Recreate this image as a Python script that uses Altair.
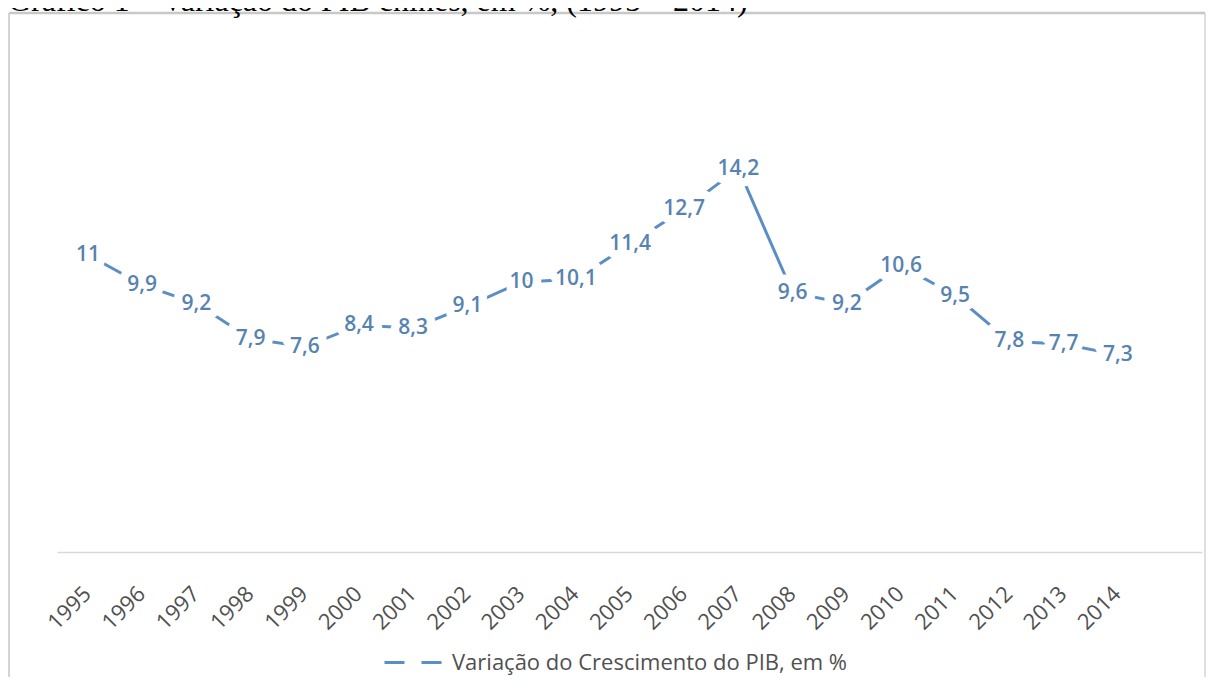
import altair as alt
import pandas as pd

# ---- data ----
anos = [1995, 1996, 1997, 1998, 1999, 2000, 2001, 2002, 2003, 2004,
        2005, 2006, 2007, 2008, 2009, 2010, 2011, 2012, 2013, 2014]
valores = [11, 9.9, 9.2, 7.9, 7.6, 8.4, 8.3, 9.1, 10, 10.1,
           11.4, 12.7, 14.2, 9.6, 9.2, 10.6, 9.5, 7.8, 7.7, 7.3]
serie_nome = "Variação do Crescimento do PIB, em %"
titulo = "Gráfico 1 – Variação do PIB chinês, em %, (1995 – 2014)"

df = pd.DataFrame({
    "ano": anos,
    "valor": valores,
    "rotulo": [f"{v:g}".replace(".", ",") for v in valores],
    "serie": [serie_nome] * len(anos),
})

AZUL_LINHA = "#5b8ec4"
AZUL_TEXTO = "#5783b0"
CINZA = "#505050"
BORDA = "#d4d4d4"

W, H = 1145, 432
xscale = alt.Scale(domain=[1994.428, 2015.553], nice=False, zero=False)
yscale = alt.Scale(domain=[0, 16], nice=False, zero=True)

base = alt.Chart(df)

linha = base.mark_line(strokeWidth=3).encode(
    x=alt.X("ano:Q", scale=xscale,
            axis=alt.Axis(values=anos, format="d", title=None, grid=False,
                          ticks=False, tickSize=0, labelAngle=-45,
                          labelAlign="right", labelBaseline="middle",
                          labelPadding=38, labelOffset=-1,
                          labelFontSize=22, labelFont="Open Sans",
                          labelColor=CINZA, labelFlush=False,
                          labelOverlap=False, domainColor="#d9d9d9",
                          domainWidth=1.5)),
    y=alt.Y("valor:Q", scale=yscale, axis=None),
    color=alt.Color("serie:N", scale=alt.Scale(range=[AZUL_LINHA]),
                    legend=alt.Legend(title=None, orient="none",
                                      legendX=326, legendY=509,
                                      symbolType="stroke", symbolSize=4096,
                                      symbolStrokeWidth=3,
                                      symbolDash=[20, 17],
                                      labelFontSize=22, labelFont="Open Sans",
                                      labelColor=CINZA, labelOffset=2,
                                      padding=0, labelLimit=0)),
)

halo = base.mark_text(fontSize=21, font="Open Sans", fontWeight=600,
                      baseline="middle", align="center", fill="white",
                      stroke="white", strokeWidth=17,
                      strokeJoin="round").encode(
    x=alt.X("ano:Q", scale=xscale),
    y=alt.Y("valor:Q", scale=yscale),
    text="rotulo:N",
)

rotulos = base.mark_text(fontSize=21, font="Open Sans", fontWeight=600,
                         baseline="middle", align="center",
                         color=AZUL_TEXTO).encode(
    x=alt.X("ano:Q", scale=xscale),
    y=alt.Y("valor:Q", scale=yscale),
    text="rotulo:N",
)

um = pd.DataFrame({"t": [titulo]})
titulo_txt = alt.Chart(um).mark_text(
    font="Liberation Serif", fontSize=32, align="left",
    baseline="alphabetic", color="black").encode(
    x=alt.value(-49), y=alt.value(-109), text="t:N")

borda_esq = alt.Chart(um).mark_rule(color=BORDA, strokeWidth=2).encode(
    x=alt.value(-48), y=alt.value(-107), y2=alt.value(700))
borda_dir = alt.Chart(um).mark_rule(color=BORDA, strokeWidth=1.5).encode(
    x=alt.value(1148), y=alt.value(-107), y2=alt.value(700))
borda_top = alt.Chart(um).mark_rule(color="#c8c8c8", strokeWidth=2.5).encode(
    x=alt.value(-48), x2=alt.value(1148), y=alt.value(-107))

chart = alt.layer(
    borda_esq, borda_dir, borda_top, titulo_txt, linha, halo, rotulos
).properties(
    width=W, height=H,
    autosize=alt.AutoSizeParams(type="none"),
    padding={"left": 49, "top": 112, "right": 4, "bottom": 125},
).configure_view(stroke=None)

chart.save("out.html", embed_options={"renderer": "svg", "actions": False})
